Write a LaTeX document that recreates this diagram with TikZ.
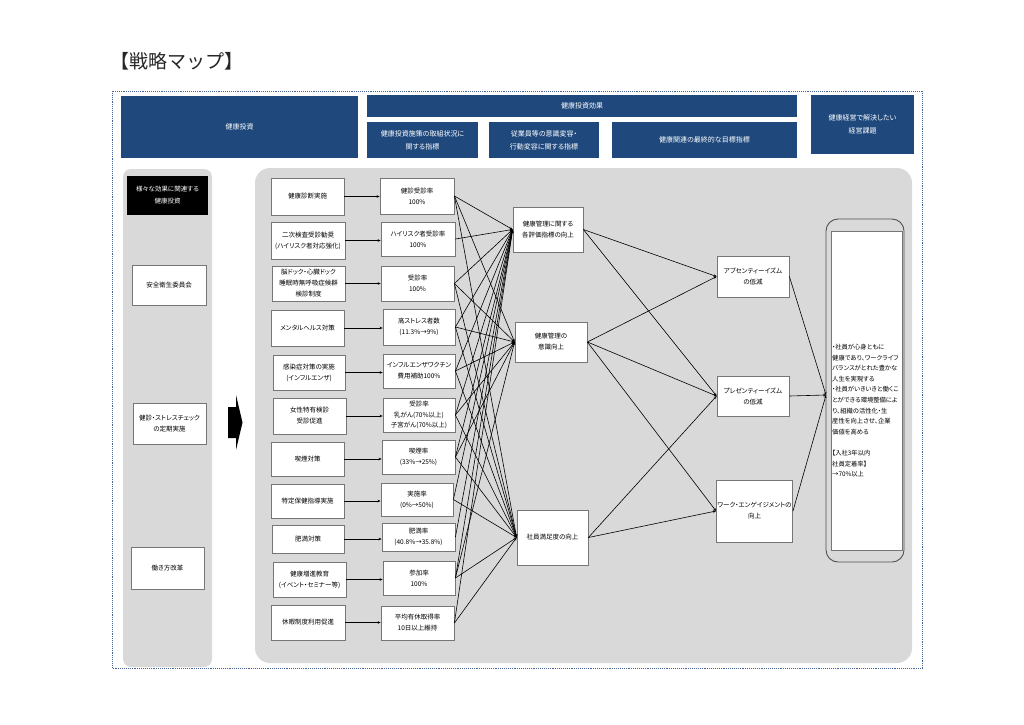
\documentclass[tikz,border=0pt]{standalone}
\usepackage{fontspec}
\setmainfont[RawFeature=+palt]{Noto Sans CJK JP}
\newfontfamily\titlefont{Noto Sans CJK JP}
\usetikzlibrary{arrows.meta}
\definecolor{hdrblue}{RGB}{31,73,125}
\definecolor{panelgray}{RGB}{217,217,217}
\definecolor{boxgray}{RGB}{118,118,118}
\definecolor{dotblue}{RGB}{70,100,150}
\definecolor{finborder}{RGB}{80,80,80}
\tikzset{
  hdr/.style={fill=hdrblue, text=white, align=center, inner sep=0pt, font=\fontsize{7}{13}\selectfont},
  wbox/.style={draw=boxgray, fill=white, line width=0.8pt, align=center, inner sep=1pt, font=\fontsize{6.5}{11}\selectfont},
  blackbox/.style={fill=black, text=white, align=center, inner sep=0pt, font=\fontsize{6.5}{12}\selectfont},
  con/.style={draw=black, line width=0.6pt, -{Stealth[length=3pt,width=2.6pt]}},
  panel/.style={fill=panelgray, draw=none},
}
\begin{document}
\begin{tikzpicture}[x=1pt,y=-1pt]
\useasboundingbox (0,0) rectangle (1024,724);
\fill[white] (0,0) rectangle (1024,724);

% title
\node[anchor=west, inner sep=0pt, text=black!85, font=\titlefont\fontsize{19}{19}\selectfont] (title) at (110,61) {【戦略マップ】};

% outer dotted frame
\draw[dotblue, line width=0.9pt, densely dotted] (112,91) rectangle (922,668);

% headers
\node[hdr, minimum width=237, minimum height=62] (h1) at (239.5,127) {健康投資};
\node[hdr, minimum width=430, minimum height=22] (h2) at (582,106) {健康投資効果};
\node[hdr, minimum width=111, minimum height=36] (h3) at (422.5,140) {健康投資施策の取組状況に\\関する指標};
\node[hdr, minimum width=110, minimum height=36] (h4) at (544,140) {従業員等の意識変容・\\行動変容に関する指標};
\node[hdr, minimum width=185, minimum height=36] (h5) at (704.5,140) {健康関連の最終的な目標指標};
\node[hdr, minimum width=103, minimum height=59] (h6) at (862.5,124.5) {健康経営で解決したい\\経営課題};

% panels
\fill[panel, rounded corners=8pt] (123,169) rectangle (212,667);
\fill[panel, rounded corners=15pt] (255,168) rectangle (912,663);

% left column
\node[blackbox, minimum width=81, minimum height=39] (k) at (167.5,195.5) {様々な効果に関連する\\健康投資};
\node[wbox, minimum width=74, minimum height=40] (l1) at (169,285) {安全衛生委員会};
\node[wbox, minimum width=73, minimum height=41] (l2) at (169.5,423.5) {健診・ストレスチェック\\の定期実施};
\node[wbox, minimum width=73, minimum height=42] (l3) at (167.5,568) {働き方改革};

% big arrow
\fill[black] (228,407) -- (236,407) -- (236,395) -- (242.5,422.5) -- (236,450) -- (236,438) -- (228,438) -- cycle;

% column 2
\node[wbox, minimum width=73, minimum height=37] (a1) at (307.5,196.5) {健康診断実施};
\node[wbox, minimum width=74, minimum height=37] (a2) at (308,240.5) {二次検査受診勧奨\\(ハイリスク者対応強化)};
\node[wbox, minimum width=73, minimum height=35] (a3) at (308.5,283.5) {脳ドック・心臓ドック\\睡眠時無呼吸症候群\\検診制度};
\node[wbox, minimum width=73, minimum height=36] (a4) at (307.5,328) {メンタルヘルス対策};
\node[wbox, minimum width=72, minimum height=35] (a5) at (309,372.5) {感染症対策の実施\\(インフルエンザ)};
\node[wbox, minimum width=73, minimum height=36] (a6) at (309.5,416) {女性特有検診\\受診促進};
\node[wbox, minimum width=73, minimum height=34] (a7) at (307.5,459) {喫煙対策};
\node[wbox, minimum width=73, minimum height=34] (a8) at (307.5,501) {特定保健指導実施};
\node[wbox, minimum width=72, minimum height=28] (a9) at (308,539) {肥満対策};
\node[wbox, minimum width=73, minimum height=35] (a10) at (309.5,579.5) {健康増進教育\\(イベント・セミナー等)};
\node[wbox, minimum width=74, minimum height=35] (a11) at (308,622.5) {休暇制度利用促進};

% column 3
\node[wbox, minimum width=74, minimum height=36] (b1) at (417,196) {健診受診率\\100\%};
\node[wbox, minimum width=74, minimum height=34] (b2) at (418,239) {ハイリスク者受診率\\100\%};
\node[wbox, minimum width=73, minimum height=35] (b3) at (417.5,283.5) {受診率\\100\%};
\node[wbox, minimum width=72, minimum height=36] (b4) at (419,327) {高ストレス者数\\(11.3\%→9\%)};
\node[wbox, minimum width=72, minimum height=34] (b5) at (419,371) {インフルエンザワクチン\\費用補助100\%};
\node[wbox, minimum width=72, minimum height=34, font=\fontsize{6.5}{10.5}\selectfont] (b6) at (419,415) {受診率\\乳がん(70\%以上)\\子宮がん(70\%以上)};
\node[wbox, minimum width=73, minimum height=34] (b7) at (418.5,457) {喫煙率\\(33\%→25\%)};
\node[wbox, minimum width=72, minimum height=33] (b8) at (417,499.5) {実施率\\(0\%→50\%)};
\node[wbox, minimum width=73, minimum height=28] (b9) at (418.5,537) {肥満率\\(40.8\%→35.8\%)};
\node[wbox, minimum width=72, minimum height=34] (b10) at (419,578) {参加率\\100\%};
\node[wbox, minimum width=73, minimum height=34] (b11) at (417.5,623) {平均有休取得率\\10日以上維持};

% middle column
\node[wbox, minimum width=70, minimum height=45] (m1) at (548,229.5) {健康管理に関する\\各評価指標の向上};
\node[wbox, minimum width=72, minimum height=40] (m2) at (551,342) {健康管理の\\意識向上};
\node[wbox, minimum width=71, minimum height=55] (m3) at (552.5,537.5) {社員満足度の向上};

% right column
\node[wbox, minimum width=72, minimum height=41] (r1) at (753,276.5) {アブセンティーイズム\\の低減};
\node[wbox, minimum width=72, minimum height=40] (r2) at (753,396) {プレゼンティーイズム\\の低減};
\node[wbox, minimum width=73, minimum height=62] (r3) at (754.5,511) {ワーク・エンゲイジメントの\\向上};

% final box
\node[draw=finborder, line width=0.9pt, rounded corners=12pt, minimum width=78, minimum height=343, inner sep=0pt] (fout) at (865,390.5) {};
\node[draw=boxgray, fill=white, line width=0.8pt, minimum width=71, minimum height=319, inner sep=0pt] (fin) at (866.5,390.5) {};
\node[anchor=north west, align=left, inner sep=0pt, font=\fontsize{6.3}{10.6}\selectfont] (fintext) at (832,344) {・社員が心身ともに\\健康であり、ワークライフ\\バランスがとれた豊かな\\人生を実現する\\・社員がいきいきと働くこ\\とができる環境整備によ\\り、組織の活性化・生\\産性を向上させ、企業\\価値を高める\\[10.6pt]【入社3年以内\\社員定着率】\\→70\%以上};
\coordinate (finin) at (826,395);

% column 2 -> column 3
\foreach \i in {1,...,11} {
  \draw[con] (a\i.east) -- (a\i.east -| b\i.west);
}

% column 3 -> middle
\foreach \i in {1,...,11} {
  \draw[con] (b\i.east) -- (m1.west);
}
\foreach \i in {1,3,4,5,6,7,10} {
  \draw[con] (b\i.east) -- (m2.west);
}
\foreach \i in {1,3,4,5,6,7,8,10,11} {
  \draw[con] (b\i.east) -- (m3.west);
}

% middle -> right
\draw[con] (m1.east) -- (r1.west);
\draw[con] (m1.east) -- (r2.west);
\draw[con] (m2.east) -- (r1.west);
\draw[con] (m2.east) -- (r2.west);
\draw[con] (m2.east) -- (r3.west);
\draw[con] (m3.east) -- (r2.west);
\draw[con] (m3.east) -- (r3.west);

% right -> final
\draw[con] (r1.east) -- (finin);
\draw[con] (r2.east) -- (finin);
\draw[con] (r3.east) -- (finin);
\end{tikzpicture}
\end{document}
